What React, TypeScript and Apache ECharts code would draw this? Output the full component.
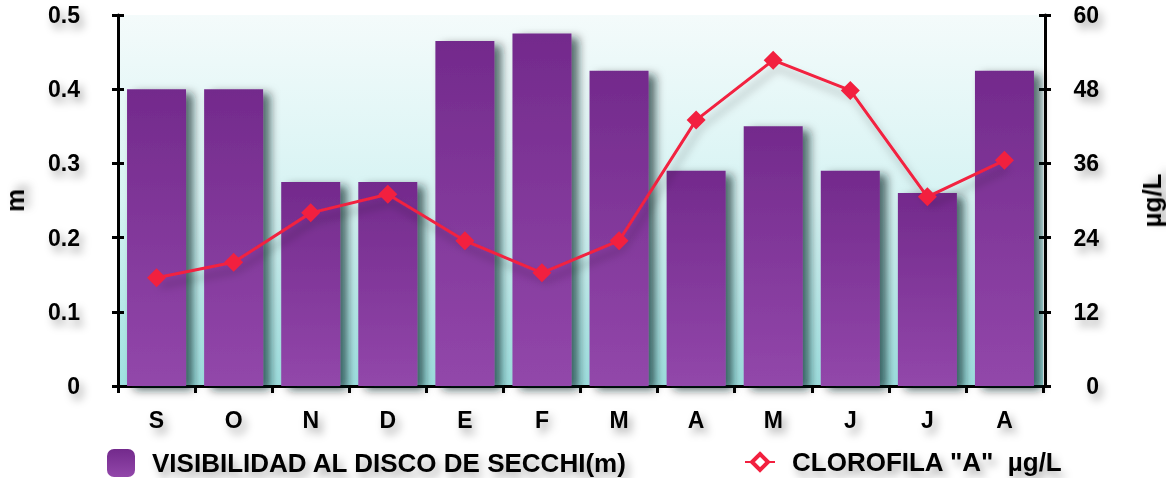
import React, { useEffect, useRef } from "react";
import * as echarts from "echarts";

const months = ["S", "O", "N", "D", "E", "F", "M", "A", "M", "J", "J", "A"];
const secchi = [0.4, 0.4, 0.275, 0.275, 0.465, 0.475, 0.425, 0.29, 0.35, 0.29, 0.26, 0.425];
const clorofila = [17.5, 20, 28, 31, 23.5, 18.3, 23.5, 43, 52.7, 47.8, 30.6, 36.5];
const barName = "VISIBILIDAD AL DISCO DE SECCHI(m)";
const lineName = 'CLOROFILA "A"  µg/L';

const FONT = "'Liberation Sans', Arial, Helvetica, sans-serif";
const RED = "#f2203f";
const shadowText = {
  textShadowColor: "rgba(0,0,0,0.35)",
  textShadowBlur: 8,
  textShadowOffsetX: 4,
  textShadowOffsetY: 6,
};
const labelStyle = {
  color: "#000",
  fontFamily: FONT,
  fontWeight: "bold" as const,
  fontSize: 23,
  ...shadowText,
};
const bigStyle = { ...labelStyle, fontSize: 26 };

export default function App() {
  const ref = useRef<HTMLDivElement>(null);
  useEffect(() => {
    if (!ref.current) return;
    const chart = echarts.init(ref.current, null, { renderer: "svg" });
    const axisLine = { show: true, lineStyle: { color: "#000", width: 3 } };
    const tick = (inside: boolean) => ({
      show: true,
      inside,
      length: 6,
      lineStyle: { color: "#000", width: 3 },
    });
    chart.setOption({
      animation: false,
      backgroundColor: "#fff",
      grid: {
        left: 118,
        right: 123,
        top: 15,
        bottom: 92,
        outerBoundsMode: "none",
        containLabel: false,
        show: true,
        borderWidth: 0,
        backgroundColor: new echarts.graphic.LinearGradient(0, 0, 0, 1, [
          { offset: 0, color: "#f4fbfb" },
          { offset: 0.5, color: "#d6f3f3" },
          { offset: 1, color: "#9ee0e0" },
        ]),
      },
      legend: [
        {
          data: [barName],
          left: 107,
          top: 449,
          padding: 0,
          itemWidth: 28,
          itemHeight: 28,
          textStyle: { ...bigStyle, padding: [0, 0, 0, 12] },
        },
        {
          data: [
            {
              name: lineName,
              itemStyle: { color: "#fff", borderColor: RED, borderWidth: 4 },
            },
          ],
          left: 744,
          top: 449,
          padding: 0,
          itemWidth: 30,
          itemHeight: 20,
          textStyle: { ...bigStyle, padding: [0, 0, 0, 12] },
        },
      ],
      xAxis: {
        type: "category",
        data: months,
        axisLine,
        axisTick: { ...tick(false), length: 7 },
        axisLabel: { ...labelStyle, margin: 22 },
      },
      yAxis: [
        {
          type: "value",
          min: 0,
          max: 0.5,
          interval: 0.1,
          position: "left",
          axisLine,
          axisTick: tick(false),
          axisLabel: {
            ...labelStyle,
            margin: 38,
            formatter: (v: number) => (v === 0 ? "0" : v.toFixed(1)),
          },
          splitLine: { show: false },
          name: "m",
          nameLocation: "middle",
          nameGap: 90,
          nameRotate: 90,
          nameTextStyle: { ...bigStyle, lineHeight: 26 },
        },
        {
          type: "value",
          min: 0,
          max: 60,
          interval: 12,
          position: "right",
          offset: 2,
          axisLine,
          axisTick: tick(false),
          axisLabel: { ...labelStyle, margin: 54, align: "right" },
          splitLine: { show: false },
          name: "µg/L",
          nameLocation: "middle",
          nameGap: 94,
          nameRotate: 90,
          nameTextStyle: bigStyle,
        },
        {
          type: "value",
          min: 0,
          max: 0.5,
          interval: 0.1,
          position: "left",
          axisLine: { show: false },
          axisTick: tick(true),
          axisLabel: { show: false },
          splitLine: { show: false },
        },
        {
          type: "value",
          min: 0,
          max: 60,
          interval: 12,
          position: "right",
          offset: 2,
          axisLine: { show: false },
          axisTick: tick(true),
          axisLabel: { show: false },
          splitLine: { show: false },
        },
      ],
      series: [
        {
          name: barName,
          type: "bar",
          yAxisIndex: 0,
          data: secchi,
          barWidth: 59,
          itemStyle: {
            color: new echarts.graphic.LinearGradient(0, 0, 0, 1, [
              { offset: 0, color: "#732a8c" },
              { offset: 1, color: "#9247aa" },
            ]),
            shadowColor: "rgba(0,30,30,0.65)",
            shadowBlur: 10,
            shadowOffsetX: 7,
            shadowOffsetY: 4,
          },
        },
        {
          name: lineName,
          type: "line",
          yAxisIndex: 1,
          data: clorofila,
          symbol: "diamond",
          symbolSize: 19,
          lineStyle: {
            color: RED,
            width: 3,
            shadowColor: "rgba(0,0,0,0.3)",
            shadowBlur: 8,
            shadowOffsetX: 4,
            shadowOffsetY: 8,
          },
          itemStyle: { color: RED },
        },
        {
          name: "centro",
          type: "scatter",
          yAxisIndex: 1,
          data: clorofila,
          symbol: "rect",
          symbolSize: 3,
          silent: true,
          itemStyle: { color: "#fff" },
        },
      ],
    });
    return () => chart.dispose();
  }, []);
  return (
    <div
      ref={ref}
      style={{ position: "absolute", left: 0, top: 0, width: 1166, height: 478 }}
    />
  );
}
